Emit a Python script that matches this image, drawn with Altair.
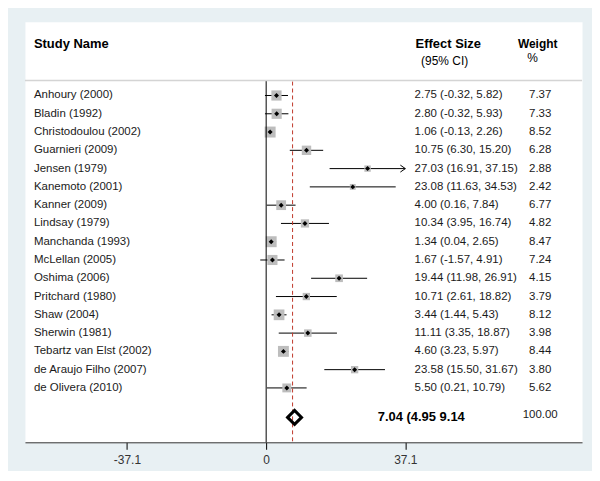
import altair as alt
import pandas as pd
import numpy as np

names = ["Anhoury (2000)", "Bladin (1992)", "Christodoulou (2002)", "Guarnieri (2009)",
         "Jensen (1979)", "Kanemoto (2001)", "Kanner (2009)", "Lindsay (1979)",
         "Manchanda (1993)", "McLellan (2005)", "Oshima (2006)", "Pritchard (1980)",
         "Shaw (2004)", "Sherwin (1981)", "Tebartz van Elst (2002)", "de Araujo Filho (2007)",
         "de Olivera (2010)"]
es = [2.75, 2.80, 1.06, 10.75, 27.03, 23.08, 4.00, 10.34, 1.34, 1.67, 19.44, 10.71, 3.44, 11.11, 4.60, 23.58, 5.50]
lo = [-0.32, -0.32, -0.13, 6.30, 16.91, 11.63, 0.16, 3.95, 0.04, -1.57, 11.98, 2.61, 1.44, 3.35, 3.23, 15.50, 0.21]
hi = [5.82, 5.93, 2.26, 15.20, 37.15, 34.53, 7.84, 16.74, 2.65, 4.91, 26.91, 18.82, 5.43, 18.87, 5.97, 31.67, 10.79]
weights = [7.37, 7.33, 8.52, 6.28, 2.88, 2.42, 6.77, 4.82, 8.47, 7.24, 4.15, 3.79, 8.12, 3.98, 8.44, 3.80, 5.62]

pooled_es = 7.04
pooled_lo = 4.95
pooled_hi = 9.14
pooled_w = 100.00
axis_ticks = [-37.1, 0, 37.1]
axis_limit = 37.1

FONT = "Liberation Sans"

df = pd.DataFrame({"name": names, "es": es, "lo": lo, "hi": hi, "w": weights})
df["row"] = np.arange(len(df))
df["lo_c"] = np.maximum(df["lo"], -axis_limit)
df["hi_c"] = np.minimum(df["hi"], axis_limit)
df["es_txt"] = [f"{e:.2f} ({l:.2f}, {h:.2f})" for e, l, h in zip(es, lo, hi)]
df["w_txt"] = [f"{w:.2f}" for w in weights]
arrows = df[df["hi"] > axis_limit].copy()

pooled = pd.DataFrame({"es": [pooled_es],
                       "txt": [f"{pooled_es:.2f} ({pooled_lo:.2f} {pooled_hi:.2f}"],
                       "w_txt": [f"{pooled_w:.2f}"]})

W, H = 559, 422
HDR = 59          # header separator line (px from plot top)
POOL_Y = 397      # pooled row (px from plot top)

xs = alt.Scale(domain=[-64.3, 84.2], nice=False, zero=False)
ys = alt.Scale(domain=[-4.035, 18.975], reverse=True, nice=False, zero=False)

xaxis = alt.Axis(values=axis_ticks, grid=False, title=None, domainColor="#333333",
                 tickColor="#000000", tickSize=7, labelPadding=5, labelFont=FONT,
                 labelFontSize=12, labelColor="#333333",
                 labelExpr="datum.value == 0 ? '0' : (datum.value < 0 ? '-' : '') + format(abs(datum.value), '.1f')")

def X(field):
    return alt.X(field, scale=xs, axis=xaxis, title=None)

def Y(field):
    return alt.Y(field, scale=ys, axis=None, title=None)

base = alt.Chart(df)

ci = base.mark_rule(color="black", strokeWidth=1).encode(
    x=X("lo_c:Q"), x2="hi_c:Q", y=Y("row:Q"))

boxes = base.mark_square(color="#bdbdbd", opacity=1).encode(
    x=X("es:Q"), y=Y("row:Q"),
    size=alt.Size("w:Q", scale=alt.Scale(domain=[0, 10], range=[0, 142]), legend=None),
)

dots = base.mark_point(shape="diamond", filled=True, color="black", size=25, opacity=1).encode(
    x=X("es:Q"), y=Y("row:Q"))

arrow = alt.Chart(arrows).mark_point(shape="M-1,-0.7L0,0L-1,0.7", filled=False, color="black",
                                     strokeWidth=1, size=100, opacity=1).encode(
    x=X("hi_c:Q"), y=Y("row:Q"))

zero_line = alt.Chart(pd.DataFrame({"v": [0]})).mark_rule(color="black", strokeWidth=1).encode(
    x=X("v:Q"), y=alt.value(HDR), y2=alt.value(H))

red_line = alt.Chart(pd.DataFrame({"v": [pooled_es]})).mark_rule(
    color="#c0392b", strokeWidth=1, strokeDash=[4, 3]).encode(
    x=X("v:Q"), y=alt.value(HDR + 1), y2=alt.value(H))

header_line = alt.Chart(pd.DataFrame({"v": [0]})).mark_rule(color="#d4d4d4", strokeWidth=1.5).encode(
    x=alt.value(0), x2=alt.value(W), y=alt.value(HDR))

def row_text(field, x, align):
    return base.mark_text(align=align, baseline="middle", font=FONT, fontSize=11.5,
                          color="#1a1a1a").encode(x=alt.value(x), y=Y("row:Q"), text=field)

name_txt = row_text("name:N", 9, "left")
es_txt = row_text("es_txt:N", 391, "left")
w_txt = row_text("w_txt:N", 517, "center")

diamond = alt.Chart(pooled).mark_point(shape="diamond", filled=False, color="black",
                                       strokeWidth=3, size=196, opacity=1, strokeJoin="miter",
                                       xOffset=2).encode(
    x=X("es:Q"), y=alt.value(POOL_Y))
pooled_txt = alt.Chart(pooled).mark_text(align="left", baseline="middle", font=FONT, fontSize=13,
                                         fontWeight="bold", color="black").encode(
    x=alt.value(354), y=alt.value(POOL_Y), text="txt:N")
pooled_w_txt = alt.Chart(pooled).mark_text(align="center", baseline="middle", font=FONT, fontSize=11.5,
                                           color="#1a1a1a").encode(
    x=alt.value(517), y=alt.value(POOL_Y - 2), text="w_txt:N")

def header(text, x, y, size, bold, align="left"):
    kw = dict(align=align, baseline="middle", font=FONT, fontSize=size, color="black")
    if bold:
        kw["fontWeight"] = "bold"
    return alt.Chart(pd.DataFrame({"t": [text]})).mark_text(**kw).encode(
        x=alt.value(x), y=alt.value(y), text="t:N")

headers = [
    header("Study Name", 9, 22.5, 13, True),
    header("Effect Size", 392, 22.5, 13, True),
    header("(95% CI)", 397.5, 39, 12, False),
    header("Weight", 514.5, 22, 12, True, align="center"),
    header("%", 504, 36.5, 12, False),
]

chart = alt.layer(ci, boxes, dots, arrow, zero_line, red_line, header_line,
                  name_txt, es_txt, w_txt, diamond, pooled_txt, pooled_w_txt, *headers).properties(
    width=W, height=H,
    padding={"left": 16, "top": 13, "right": 9, "bottom": 5},
    background="#e8f0f3",
).configure_view(fill="white", stroke="transparent")

chart.save("out.html", embed_options={"renderer": "svg", "actions": False})
